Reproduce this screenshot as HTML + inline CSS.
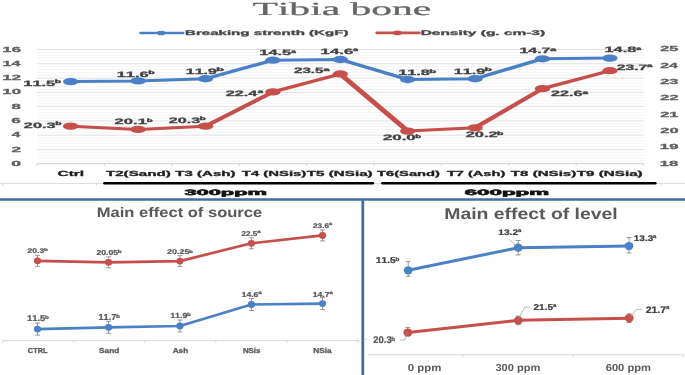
<!DOCTYPE html>
<html><head><meta charset="utf-8"><style>
html,body{margin:0;padding:0;background:#fff;}
body{width:685px;height:375px;overflow:hidden;}
svg{display:block;font-kerning:none;text-rendering:geometricPrecision;}
</style></head><body>
<svg width="685" height="375" viewBox="0 0 685 375" style="filter:blur(0.6px)">
<rect width="685" height="375" fill="#fff"/>
<line x1="37" y1="160.84" x2="643.6" y2="160.84" stroke="#f3f3f3" stroke-width="0.9" />
<line x1="37" y1="157.99" x2="643.6" y2="157.99" stroke="#f3f3f3" stroke-width="0.9" />
<line x1="37" y1="155.13" x2="643.6" y2="155.13" stroke="#f3f3f3" stroke-width="0.9" />
<line x1="37" y1="152.28" x2="643.6" y2="152.28" stroke="#f3f3f3" stroke-width="0.9" />
<line x1="37" y1="146.57" x2="643.6" y2="146.57" stroke="#f3f3f3" stroke-width="0.9" />
<line x1="37" y1="143.71" x2="643.6" y2="143.71" stroke="#f3f3f3" stroke-width="0.9" />
<line x1="37" y1="140.86" x2="643.6" y2="140.86" stroke="#f3f3f3" stroke-width="0.9" />
<line x1="37" y1="138" x2="643.6" y2="138" stroke="#f3f3f3" stroke-width="0.9" />
<line x1="37" y1="132.29" x2="643.6" y2="132.29" stroke="#f3f3f3" stroke-width="0.9" />
<line x1="37" y1="129.44" x2="643.6" y2="129.44" stroke="#f3f3f3" stroke-width="0.9" />
<line x1="37" y1="126.58" x2="643.6" y2="126.58" stroke="#f3f3f3" stroke-width="0.9" />
<line x1="37" y1="123.73" x2="643.6" y2="123.73" stroke="#f3f3f3" stroke-width="0.9" />
<line x1="37" y1="118.02" x2="643.6" y2="118.02" stroke="#f3f3f3" stroke-width="0.9" />
<line x1="37" y1="115.16" x2="643.6" y2="115.16" stroke="#f3f3f3" stroke-width="0.9" />
<line x1="37" y1="112.31" x2="643.6" y2="112.31" stroke="#f3f3f3" stroke-width="0.9" />
<line x1="37" y1="109.45" x2="643.6" y2="109.45" stroke="#f3f3f3" stroke-width="0.9" />
<line x1="37" y1="103.74" x2="643.6" y2="103.74" stroke="#f3f3f3" stroke-width="0.9" />
<line x1="37" y1="100.89" x2="643.6" y2="100.89" stroke="#f3f3f3" stroke-width="0.9" />
<line x1="37" y1="98.03" x2="643.6" y2="98.03" stroke="#f3f3f3" stroke-width="0.9" />
<line x1="37" y1="95.18" x2="643.6" y2="95.18" stroke="#f3f3f3" stroke-width="0.9" />
<line x1="37" y1="89.47" x2="643.6" y2="89.47" stroke="#f3f3f3" stroke-width="0.9" />
<line x1="37" y1="86.61" x2="643.6" y2="86.61" stroke="#f3f3f3" stroke-width="0.9" />
<line x1="37" y1="83.76" x2="643.6" y2="83.76" stroke="#f3f3f3" stroke-width="0.9" />
<line x1="37" y1="80.9" x2="643.6" y2="80.9" stroke="#f3f3f3" stroke-width="0.9" />
<line x1="37" y1="75.19" x2="643.6" y2="75.19" stroke="#f3f3f3" stroke-width="0.9" />
<line x1="37" y1="72.34" x2="643.6" y2="72.34" stroke="#f3f3f3" stroke-width="0.9" />
<line x1="37" y1="69.48" x2="643.6" y2="69.48" stroke="#f3f3f3" stroke-width="0.9" />
<line x1="37" y1="66.63" x2="643.6" y2="66.63" stroke="#f3f3f3" stroke-width="0.9" />
<line x1="37" y1="60.92" x2="643.6" y2="60.92" stroke="#f3f3f3" stroke-width="0.9" />
<line x1="37" y1="58.06" x2="643.6" y2="58.06" stroke="#f3f3f3" stroke-width="0.9" />
<line x1="37" y1="55.21" x2="643.6" y2="55.21" stroke="#f3f3f3" stroke-width="0.9" />
<line x1="37" y1="52.35" x2="643.6" y2="52.35" stroke="#f3f3f3" stroke-width="0.9" />
<line x1="37" y1="149.42" x2="643.6" y2="149.42" stroke="#e0e0e0" stroke-width="1" />
<line x1="37" y1="135.15" x2="643.6" y2="135.15" stroke="#e0e0e0" stroke-width="1" />
<line x1="37" y1="120.88" x2="643.6" y2="120.88" stroke="#e0e0e0" stroke-width="1" />
<line x1="37" y1="106.6" x2="643.6" y2="106.6" stroke="#e0e0e0" stroke-width="1" />
<line x1="37" y1="92.32" x2="643.6" y2="92.32" stroke="#e0e0e0" stroke-width="1" />
<line x1="37" y1="78.05" x2="643.6" y2="78.05" stroke="#e0e0e0" stroke-width="1" />
<line x1="37" y1="63.78" x2="643.6" y2="63.78" stroke="#e0e0e0" stroke-width="1" />
<line x1="37" y1="49.5" x2="643.6" y2="49.5" stroke="#e0e0e0" stroke-width="1" />
<line x1="37" y1="163.7" x2="643.6" y2="163.7" stroke="#d0d0d0" stroke-width="1" />
<line x1="37" y1="163.7" x2="37" y2="165.9" stroke="#c8c8c8" stroke-width="0.8" />
<line x1="104.4" y1="163.7" x2="104.4" y2="165.9" stroke="#c8c8c8" stroke-width="0.8" />
<line x1="171.8" y1="163.7" x2="171.8" y2="165.9" stroke="#c8c8c8" stroke-width="0.8" />
<line x1="239.2" y1="163.7" x2="239.2" y2="165.9" stroke="#c8c8c8" stroke-width="0.8" />
<line x1="306.6" y1="163.7" x2="306.6" y2="165.9" stroke="#c8c8c8" stroke-width="0.8" />
<line x1="374" y1="163.7" x2="374" y2="165.9" stroke="#c8c8c8" stroke-width="0.8" />
<line x1="441.4" y1="163.7" x2="441.4" y2="165.9" stroke="#c8c8c8" stroke-width="0.8" />
<line x1="508.8" y1="163.7" x2="508.8" y2="165.9" stroke="#c8c8c8" stroke-width="0.8" />
<line x1="576.2" y1="163.7" x2="576.2" y2="165.9" stroke="#c8c8c8" stroke-width="0.8" />
<line x1="643.6" y1="163.7" x2="643.6" y2="165.9" stroke="#c8c8c8" stroke-width="0.8" />
<text transform="matrix(0.23584,0,0,0.10000,11.31,165.8)" font-size="74" font-family='"Liberation Sans", sans-serif' font-weight="bold" fill="#606060"  stroke="#606060" stroke-width="3" stroke-linejoin="round">0</text>
<text transform="matrix(0.23297,0,0,0.10000,11.4,151.52)" font-size="74" font-family='"Liberation Sans", sans-serif' font-weight="bold" fill="#606060"  stroke="#606060" stroke-width="3" stroke-linejoin="round">2</text>
<text transform="matrix(0.20940,0,0,0.10000,11.77,137.25)" font-size="74" font-family='"Liberation Sans", sans-serif' font-weight="bold" fill="#606060"  stroke="#606060" stroke-width="3" stroke-linejoin="round">4</text>
<text transform="matrix(0.23203,0,0,0.10000,11.37,122.97)" font-size="74" font-family='"Liberation Sans", sans-serif' font-weight="bold" fill="#606060"  stroke="#606060" stroke-width="3" stroke-linejoin="round">6</text>
<text transform="matrix(0.22721,0,0,0.10000,11.47,108.7)" font-size="74" font-family='"Liberation Sans", sans-serif' font-weight="bold" fill="#606060"  stroke="#606060" stroke-width="3" stroke-linejoin="round">8</text>
<text transform="matrix(0.22650,0,0,0.10000,2.34,94.42)" font-size="74" font-family='"Liberation Sans", sans-serif' font-weight="bold" fill="#606060"  stroke="#606060" stroke-width="3" stroke-linejoin="round">10</text>
<text transform="matrix(0.22628,0,0,0.10000,2.35,80.15)" font-size="74" font-family='"Liberation Sans", sans-serif' font-weight="bold" fill="#606060"  stroke="#606060" stroke-width="3" stroke-linejoin="round">12</text>
<text transform="matrix(0.21876,0,0,0.10000,2.38,65.88)" font-size="74" font-family='"Liberation Sans", sans-serif' font-weight="bold" fill="#606060"  stroke="#606060" stroke-width="3" stroke-linejoin="round">14</text>
<text transform="matrix(0.22541,0,0,0.10000,2.35,51.6)" font-size="74" font-family='"Liberation Sans", sans-serif' font-weight="bold" fill="#606060"  stroke="#606060" stroke-width="3" stroke-linejoin="round">16</text>
<text transform="matrix(0.22422,0,0,0.10000,659.85,165.7)" font-size="74" font-family='"Liberation Sans", sans-serif' font-weight="bold" fill="#606060"  stroke="#606060" stroke-width="3" stroke-linejoin="round">18</text>
<text transform="matrix(0.22562,0,0,0.10000,659.85,149.34)" font-size="74" font-family='"Liberation Sans", sans-serif' font-weight="bold" fill="#606060"  stroke="#606060" stroke-width="3" stroke-linejoin="round">19</text>
<text transform="matrix(0.22031,0,0,0.10000,660.33,132.97)" font-size="74" font-family='"Liberation Sans", sans-serif' font-weight="bold" fill="#606060"  stroke="#606060" stroke-width="3" stroke-linejoin="round">20</text>
<text transform="matrix(0.21754,0,0,0.10000,660.34,116.61)" font-size="74" font-family='"Liberation Sans", sans-serif' font-weight="bold" fill="#606060"  stroke="#606060" stroke-width="3" stroke-linejoin="round">21</text>
<text transform="matrix(0.22010,0,0,0.10000,660.34,100.24)" font-size="74" font-family='"Liberation Sans", sans-serif' font-weight="bold" fill="#606060"  stroke="#606060" stroke-width="3" stroke-linejoin="round">22</text>
<text transform="matrix(0.21928,0,0,0.10000,660.34,83.88)" font-size="74" font-family='"Liberation Sans", sans-serif' font-weight="bold" fill="#606060"  stroke="#606060" stroke-width="3" stroke-linejoin="round">23</text>
<text transform="matrix(0.21299,0,0,0.10000,660.35,67.51)" font-size="74" font-family='"Liberation Sans", sans-serif' font-weight="bold" fill="#606060"  stroke="#606060" stroke-width="3" stroke-linejoin="round">24</text>
<text transform="matrix(0.21754,0,0,0.10000,660.34,51.15)" font-size="74" font-family='"Liberation Sans", sans-serif' font-weight="bold" fill="#606060"  stroke="#606060" stroke-width="3" stroke-linejoin="round">25</text>
<g transform="scale(2.15,1)">
<polyline points="32.88,81.62 64.23,80.91 95.58,78.76 126.93,60.21 158.28,59.49 189.63,79.48 220.98,78.76 252.33,58.78 283.67,58.06" fill="none" stroke="#4a80c6" stroke-width="3" stroke-linejoin="round" />
</g>
<g transform="scale(2.15,1)">
<polyline points="32.88,126.18 64.23,129.44 95.58,126.18 126.93,91.92 158.28,73.97 189.63,131.07 220.98,127.81 252.33,88.65 283.67,70.71" fill="none" stroke="#c64f4c" stroke-width="3" stroke-linejoin="round" />
</g>
<ellipse cx="70.7" cy="81.62" rx="7.7" ry="3.65" fill="#4a80c6"/>
<ellipse cx="138.1" cy="80.91" rx="7.7" ry="3.65" fill="#4a80c6"/>
<ellipse cx="205.5" cy="78.76" rx="7.7" ry="3.65" fill="#4a80c6"/>
<ellipse cx="272.9" cy="60.21" rx="7.7" ry="3.65" fill="#4a80c6"/>
<ellipse cx="340.3" cy="59.49" rx="7.7" ry="3.65" fill="#4a80c6"/>
<ellipse cx="407.7" cy="79.48" rx="7.7" ry="3.65" fill="#4a80c6"/>
<ellipse cx="475.1" cy="78.76" rx="7.7" ry="3.65" fill="#4a80c6"/>
<ellipse cx="542.5" cy="58.78" rx="7.7" ry="3.65" fill="#4a80c6"/>
<ellipse cx="609.9" cy="58.06" rx="7.7" ry="3.65" fill="#4a80c6"/>
<ellipse cx="70.7" cy="126.18" rx="7.7" ry="3.65" fill="#c64f4c"/>
<ellipse cx="138.1" cy="129.44" rx="7.7" ry="3.65" fill="#c64f4c"/>
<ellipse cx="205.5" cy="126.18" rx="7.7" ry="3.65" fill="#c64f4c"/>
<ellipse cx="272.9" cy="91.92" rx="7.7" ry="3.65" fill="#c64f4c"/>
<ellipse cx="340.3" cy="73.97" rx="7.7" ry="3.65" fill="#c64f4c"/>
<ellipse cx="407.7" cy="131.07" rx="7.7" ry="3.65" fill="#c64f4c"/>
<ellipse cx="475.1" cy="127.81" rx="7.7" ry="3.65" fill="#c64f4c"/>
<ellipse cx="542.5" cy="88.65" rx="7.7" ry="3.65" fill="#c64f4c"/>
<ellipse cx="609.9" cy="70.71" rx="7.7" ry="3.65" fill="#c64f4c"/>
<text transform="matrix(0.20867,0,0,0.10000,23.37,85.8)" font-size="78" font-family='"Liberation Sans", sans-serif' font-weight="bold" fill="#424242"  stroke="#424242" stroke-width="3" stroke-linejoin="round">11.5</text>
<text transform="matrix(0.21912,0,0,0.10000,54.71,83.4)" font-size="48" font-family='"Liberation Sans", sans-serif' font-weight="bold" fill="#424242"  stroke="#424242" stroke-width="4" stroke-linejoin="round">b</text>
<text transform="matrix(0.21100,0,0,0.10000,116.66,76.8)" font-size="78" font-family='"Liberation Sans", sans-serif' font-weight="bold" fill="#424242"  stroke="#424242" stroke-width="3" stroke-linejoin="round">11.6</text>
<text transform="matrix(0.21912,0,0,0.10000,148.21,74.4)" font-size="48" font-family='"Liberation Sans", sans-serif' font-weight="bold" fill="#424242"  stroke="#424242" stroke-width="4" stroke-linejoin="round">b</text>
<text transform="matrix(0.20416,0,0,0.10000,185.8,73.8)" font-size="78" font-family='"Liberation Sans", sans-serif' font-weight="bold" fill="#424242"  stroke="#424242" stroke-width="3" stroke-linejoin="round">11.9</text>
<text transform="matrix(0.26047,0,0,0.10000,216.18,71.4)" font-size="48" font-family='"Liberation Sans", sans-serif' font-weight="bold" fill="#424242"  stroke="#424242" stroke-width="4" stroke-linejoin="round">b</text>
<text transform="matrix(0.21074,0,0,0.10000,259.26,55.1)" font-size="78" font-family='"Liberation Sans", sans-serif' font-weight="bold" fill="#424242"  stroke="#424242" stroke-width="3" stroke-linejoin="round">14.5</text>
<text transform="matrix(0.17192,0,0,0.10000,291.36,52.7)" font-size="48" font-family='"Liberation Sans", sans-serif' font-weight="bold" fill="#424242"  stroke="#424242" stroke-width="4" stroke-linejoin="round">a</text>
<text transform="matrix(0.21585,0,0,0.10000,320.54,53.8)" font-size="78" font-family='"Liberation Sans", sans-serif' font-weight="bold" fill="#424242"  stroke="#424242" stroke-width="3" stroke-linejoin="round">14.6</text>
<text transform="matrix(0.17582,0,0,0.10000,353.25,51.4)" font-size="48" font-family='"Liberation Sans", sans-serif' font-weight="bold" fill="#424242"  stroke="#424242" stroke-width="4" stroke-linejoin="round">a</text>
<text transform="matrix(0.20762,0,0,0.10000,398.28,75.1)" font-size="78" font-family='"Liberation Sans", sans-serif' font-weight="bold" fill="#424242"  stroke="#424242" stroke-width="3" stroke-linejoin="round">11.8</text>
<text transform="matrix(0.23566,0,0,0.10000,429.35,72.7)" font-size="48" font-family='"Liberation Sans", sans-serif' font-weight="bold" fill="#424242"  stroke="#424242" stroke-width="4" stroke-linejoin="round">b</text>
<text transform="matrix(0.20625,0,0,0.10000,453.79,73.7)" font-size="78" font-family='"Liberation Sans", sans-serif' font-weight="bold" fill="#424242"  stroke="#424242" stroke-width="3" stroke-linejoin="round">11.9</text>
<text transform="matrix(0.24806,0,0,0.10000,484.52,71.3)" font-size="48" font-family='"Liberation Sans", sans-serif' font-weight="bold" fill="#424242"  stroke="#424242" stroke-width="4" stroke-linejoin="round">b</text>
<text transform="matrix(0.20353,0,0,0.10000,519.5,53.1)" font-size="78" font-family='"Liberation Sans", sans-serif' font-weight="bold" fill="#424242"  stroke="#424242" stroke-width="3" stroke-linejoin="round">14.7</text>
<text transform="matrix(0.21880,0,0,0.10000,550.19,50.7)" font-size="48" font-family='"Liberation Sans", sans-serif' font-weight="bold" fill="#424242"  stroke="#424242" stroke-width="4" stroke-linejoin="round">a</text>
<text transform="matrix(0.20969,0,0,0.10000,604.47,52)" font-size="78" font-family='"Liberation Sans", sans-serif' font-weight="bold" fill="#424242"  stroke="#424242" stroke-width="3" stroke-linejoin="round">14.8</text>
<text transform="matrix(0.17973,0,0,0.10000,636.35,49.6)" font-size="48" font-family='"Liberation Sans", sans-serif' font-weight="bold" fill="#424242"  stroke="#424242" stroke-width="4" stroke-linejoin="round">a</text>
<text transform="matrix(0.20918,0,0,0.10000,23.83,127.8)" font-size="78" font-family='"Liberation Sans", sans-serif' font-weight="bold" fill="#424242"  stroke="#424242" stroke-width="3" stroke-linejoin="round">20.3</text>
<text transform="matrix(0.21085,0,0,0.10000,55.13,125.4)" font-size="48" font-family='"Liberation Sans", sans-serif' font-weight="bold" fill="#424242"  stroke="#424242" stroke-width="4" stroke-linejoin="round">b</text>
<text transform="matrix(0.21302,0,0,0.10000,114.62,124)" font-size="78" font-family='"Liberation Sans", sans-serif' font-weight="bold" fill="#424242"  stroke="#424242" stroke-width="3" stroke-linejoin="round">20.1</text>
<text transform="matrix(0.20258,0,0,0.10000,146.66,121.6)" font-size="48" font-family='"Liberation Sans", sans-serif' font-weight="bold" fill="#424242"  stroke="#424242" stroke-width="4" stroke-linejoin="round">b</text>
<text transform="matrix(0.20713,0,0,0.10000,168.74,122.6)" font-size="78" font-family='"Liberation Sans", sans-serif' font-weight="bold" fill="#424242"  stroke="#424242" stroke-width="3" stroke-linejoin="round">20.3</text>
<text transform="matrix(0.20258,0,0,0.10000,199.76,120.2)" font-size="48" font-family='"Liberation Sans", sans-serif' font-weight="bold" fill="#424242"  stroke="#424242" stroke-width="4" stroke-linejoin="round">b</text>
<text transform="matrix(0.20782,0,0,0.10000,225.74,95.8)" font-size="78" font-family='"Liberation Sans", sans-serif' font-weight="bold" fill="#424242"  stroke="#424242" stroke-width="3" stroke-linejoin="round">22.4</text>
<text transform="matrix(0.19536,0,0,0.10000,257.73,93.4)" font-size="48" font-family='"Liberation Sans", sans-serif' font-weight="bold" fill="#424242"  stroke="#424242" stroke-width="4" stroke-linejoin="round">a</text>
<text transform="matrix(0.19396,0,0,0.10000,293.98,73.3)" font-size="78" font-family='"Liberation Sans", sans-serif' font-weight="bold" fill="#424242"  stroke="#424242" stroke-width="3" stroke-linejoin="round">23.5</text>
<text transform="matrix(0.22662,0,0,0.10000,323.48,70.9)" font-size="48" font-family='"Liberation Sans", sans-serif' font-weight="bold" fill="#424242"  stroke="#424242" stroke-width="4" stroke-linejoin="round">a</text>
<text transform="matrix(0.21589,0,0,0.10000,382.92,140.4)" font-size="78" font-family='"Liberation Sans", sans-serif' font-weight="bold" fill="#424242"  stroke="#424242" stroke-width="3" stroke-linejoin="round">20.0</text>
<text transform="matrix(0.19845,0,0,0.10000,415.17,138)" font-size="48" font-family='"Liberation Sans", sans-serif' font-weight="bold" fill="#424242"  stroke="#424242" stroke-width="4" stroke-linejoin="round">b</text>
<text transform="matrix(0.21030,0,0,0.10000,465.63,137.1)" font-size="78" font-family='"Liberation Sans", sans-serif' font-weight="bold" fill="#424242"  stroke="#424242" stroke-width="3" stroke-linejoin="round">20.2</text>
<text transform="matrix(0.21912,0,0,0.10000,497.01,134.7)" font-size="48" font-family='"Liberation Sans", sans-serif' font-weight="bold" fill="#424242"  stroke="#424242" stroke-width="4" stroke-linejoin="round">b</text>
<text transform="matrix(0.20781,0,0,0.10000,550.94,96.3)" font-size="78" font-family='"Liberation Sans", sans-serif' font-weight="bold" fill="#424242"  stroke="#424242" stroke-width="3" stroke-linejoin="round">22.6</text>
<text transform="matrix(0.20708,0,0,0.10000,582.41,93.9)" font-size="48" font-family='"Liberation Sans", sans-serif' font-weight="bold" fill="#424242"  stroke="#424242" stroke-width="4" stroke-linejoin="round">a</text>
<text transform="matrix(0.20113,0,0,0.10000,616.66,69.5)" font-size="78" font-family='"Liberation Sans", sans-serif' font-weight="bold" fill="#424242"  stroke="#424242" stroke-width="3" stroke-linejoin="round">23.7</text>
<text transform="matrix(0.20317,0,0,0.10000,647.01,67.1)" font-size="48" font-family='"Liberation Sans", sans-serif' font-weight="bold" fill="#424242"  stroke="#424242" stroke-width="4" stroke-linejoin="round">a</text>
<text transform="matrix(0.20811,0,0,0.10000,57.57,175.6)" font-size="74" font-family='"Liberation Sans", sans-serif' font-weight="bold" fill="#1e1e1e"  stroke="#1e1e1e" stroke-width="3" stroke-linejoin="round">Ctrl</text>
<text transform="matrix(0.20478,0,0,0.10000,105.93,175.6)" font-size="74" font-family='"Liberation Sans", sans-serif' font-weight="bold" fill="#1e1e1e"  stroke="#1e1e1e" stroke-width="3" stroke-linejoin="round">T2(Sand)</text>
<text transform="matrix(0.20310,0,0,0.10000,175.33,175.6)" font-size="74" font-family='"Liberation Sans", sans-serif' font-weight="bold" fill="#1e1e1e"  stroke="#1e1e1e" stroke-width="3" stroke-linejoin="round">T3 (Ash)</text>
<text transform="matrix(0.20082,0,0,0.10000,241.83,175.6)" font-size="74" font-family='"Liberation Sans", sans-serif' font-weight="bold" fill="#1e1e1e"  stroke="#1e1e1e" stroke-width="3" stroke-linejoin="round">T4 (NSis)</text>
<text transform="matrix(0.20525,0,0,0.10000,306.83,175.6)" font-size="74" font-family='"Liberation Sans", sans-serif' font-weight="bold" fill="#1e1e1e"  stroke="#1e1e1e" stroke-width="3" stroke-linejoin="round">T5 (NSia)</text>
<text transform="matrix(0.19933,0,0,0.10000,376.93,175.6)" font-size="74" font-family='"Liberation Sans", sans-serif' font-weight="bold" fill="#1e1e1e"  stroke="#1e1e1e" stroke-width="3" stroke-linejoin="round">T6(Sand)</text>
<text transform="matrix(0.19692,0,0,0.10000,446.94,175.6)" font-size="74" font-family='"Liberation Sans", sans-serif' font-weight="bold" fill="#1e1e1e"  stroke="#1e1e1e" stroke-width="3" stroke-linejoin="round">T7 (Ash)</text>
<text transform="matrix(0.20399,0,0,0.10000,510.83,175.6)" font-size="74" font-family='"Liberation Sans", sans-serif' font-weight="bold" fill="#1e1e1e"  stroke="#1e1e1e" stroke-width="3" stroke-linejoin="round">T8 (NSis)</text>
<text transform="matrix(0.20525,0,0,0.10000,576.83,175.6)" font-size="74" font-family='"Liberation Sans", sans-serif' font-weight="bold" fill="#1e1e1e"  stroke="#1e1e1e" stroke-width="3" stroke-linejoin="round">T9 (NSia)</text>
<line x1="0" y1="183.5" x2="685" y2="183.5" stroke="#dedede" stroke-width="1" />
<line x1="2.7" y1="183.5" x2="2.7" y2="185.6" stroke="#c8c8c8" stroke-width="0.8" />
<line x1="96.7" y1="183.5" x2="96.7" y2="185.6" stroke="#c8c8c8" stroke-width="0.8" />
<line x1="378.6" y1="183.5" x2="378.6" y2="185.6" stroke="#c8c8c8" stroke-width="0.8" />
<line x1="661.7" y1="183.5" x2="661.7" y2="185.6" stroke="#c8c8c8" stroke-width="0.8" />
<line x1="104.5" y1="183.3" x2="372.8" y2="183.3" stroke="#000" stroke-width="2.6" stroke-linecap="round"/>
<line x1="382.4" y1="183.3" x2="655.3" y2="183.3" stroke="#000" stroke-width="2.6" stroke-linecap="round"/>
<text transform="matrix(0.27971,0,0,0.10000,184.4,194.8)" font-size="78" font-family='"Liberation Sans", sans-serif' font-weight="bold" fill="#151515"  stroke="#151515" stroke-width="6" stroke-linejoin="round">300ppm</text>
<text transform="matrix(0.28632,0,0,0.10000,464.68,194.8)" font-size="78" font-family='"Liberation Sans", sans-serif' font-weight="bold" fill="#151515"  stroke="#151515" stroke-width="6" stroke-linejoin="round">600ppm</text>
<text transform="matrix(0.22453,0,0,0.10000,252.45,15)" font-size="185" font-family='"Liberation Serif", serif' font-weight="normal" fill="#666"  stroke="#666" stroke-width="2.5" stroke-linejoin="round">Tibia bone</text>
<line x1="140.5" y1="33" x2="183.2" y2="33" stroke="#4a80c6" stroke-width="2.6" stroke-linecap="round"/>
<ellipse cx="161.2" cy="33" rx="4.2" ry="2.3" fill="#4a80c6"/>
<text transform="matrix(0.22188,0,0,0.10000,184.99,34.6)" font-size="68" font-family='"Liberation Sans", sans-serif' font-weight="bold" fill="#484848"  stroke="#484848" stroke-width="3" stroke-linejoin="round">Breaking strenth (KgF)</text>
<line x1="376.6" y1="32.9" x2="419.5" y2="32.9" stroke="#c64f4c" stroke-width="2.6" stroke-linecap="round"/>
<ellipse cx="397.4" cy="32.9" rx="4.2" ry="2.3" fill="#c64f4c"/>
<text transform="matrix(0.22706,0,0,0.10000,420.67,34.6)" font-size="68" font-family='"Liberation Sans", sans-serif' font-weight="bold" fill="#484848"  stroke="#484848" stroke-width="3" stroke-linejoin="round">Density (g. cm-3)</text>
<line x1="0" y1="199.5" x2="685" y2="199.5" stroke="#41709f" stroke-width="2.4" />
<line x1="362.8" y1="199.5" x2="362.8" y2="375" stroke="#41709f" stroke-width="2.8" />
<text transform="matrix(0.11981,0,0,0.10000,96.79,217.3)" font-size="138" font-family='"Liberation Sans", sans-serif' font-weight="bold" fill="#595959" >Main effect of source</text>
<line x1="2.6" y1="340.7" x2="358.6" y2="340.7" stroke="#d9d9d9" stroke-width="1" />
<line x1="2.6" y1="340.7" x2="2.6" y2="343" stroke="#d0d0d0" stroke-width="0.8" />
<line x1="73.6" y1="340.7" x2="73.6" y2="343" stroke="#d0d0d0" stroke-width="0.8" />
<line x1="144.6" y1="340.7" x2="144.6" y2="343" stroke="#d0d0d0" stroke-width="0.8" />
<line x1="215.8" y1="340.7" x2="215.8" y2="343" stroke="#d0d0d0" stroke-width="0.8" />
<line x1="287.2" y1="340.7" x2="287.2" y2="343" stroke="#d0d0d0" stroke-width="0.8" />
<line x1="358.6" y1="340.7" x2="358.6" y2="343" stroke="#d0d0d0" stroke-width="0.8" />
<polyline points="37.5,260.8 108.6,262.3 179.9,261.1 251.4,243.3 322.5,235.4" fill="none" stroke="#c64f4c" stroke-width="2.7" stroke-linejoin="round" />
<polyline points="37.5,329.1 108.6,327.3 179.9,326 251.4,304.5 322.5,303.6" fill="none" stroke="#4a80c6" stroke-width="2.7" stroke-linejoin="round" />
<line x1="37.5" y1="255.3" x2="37.5" y2="266.3" stroke="#707070" stroke-width="0.7" />
<line x1="35" y1="255.3" x2="40" y2="255.3" stroke="#707070" stroke-width="0.7" />
<line x1="35" y1="266.3" x2="40" y2="266.3" stroke="#707070" stroke-width="0.7" />
<line x1="108.6" y1="256.8" x2="108.6" y2="267.8" stroke="#707070" stroke-width="0.7" />
<line x1="106.1" y1="256.8" x2="111.1" y2="256.8" stroke="#707070" stroke-width="0.7" />
<line x1="106.1" y1="267.8" x2="111.1" y2="267.8" stroke="#707070" stroke-width="0.7" />
<line x1="179.9" y1="255.6" x2="179.9" y2="266.6" stroke="#707070" stroke-width="0.7" />
<line x1="177.4" y1="255.6" x2="182.4" y2="255.6" stroke="#707070" stroke-width="0.7" />
<line x1="177.4" y1="266.6" x2="182.4" y2="266.6" stroke="#707070" stroke-width="0.7" />
<line x1="251.4" y1="237.8" x2="251.4" y2="248.8" stroke="#707070" stroke-width="0.7" />
<line x1="248.9" y1="237.8" x2="253.9" y2="237.8" stroke="#707070" stroke-width="0.7" />
<line x1="248.9" y1="248.8" x2="253.9" y2="248.8" stroke="#707070" stroke-width="0.7" />
<line x1="322.5" y1="229.9" x2="322.5" y2="240.9" stroke="#707070" stroke-width="0.7" />
<line x1="320" y1="229.9" x2="325" y2="229.9" stroke="#707070" stroke-width="0.7" />
<line x1="320" y1="240.9" x2="325" y2="240.9" stroke="#707070" stroke-width="0.7" />
<line x1="37.5" y1="323.1" x2="37.5" y2="335.1" stroke="#707070" stroke-width="0.7" />
<line x1="35" y1="323.1" x2="40" y2="323.1" stroke="#707070" stroke-width="0.7" />
<line x1="35" y1="335.1" x2="40" y2="335.1" stroke="#707070" stroke-width="0.7" />
<line x1="108.6" y1="321.3" x2="108.6" y2="333.3" stroke="#707070" stroke-width="0.7" />
<line x1="106.1" y1="321.3" x2="111.1" y2="321.3" stroke="#707070" stroke-width="0.7" />
<line x1="106.1" y1="333.3" x2="111.1" y2="333.3" stroke="#707070" stroke-width="0.7" />
<line x1="179.9" y1="320" x2="179.9" y2="332" stroke="#707070" stroke-width="0.7" />
<line x1="177.4" y1="320" x2="182.4" y2="320" stroke="#707070" stroke-width="0.7" />
<line x1="177.4" y1="332" x2="182.4" y2="332" stroke="#707070" stroke-width="0.7" />
<line x1="251.4" y1="298.5" x2="251.4" y2="310.5" stroke="#707070" stroke-width="0.7" />
<line x1="248.9" y1="298.5" x2="253.9" y2="298.5" stroke="#707070" stroke-width="0.7" />
<line x1="248.9" y1="310.5" x2="253.9" y2="310.5" stroke="#707070" stroke-width="0.7" />
<line x1="322.5" y1="297.6" x2="322.5" y2="309.6" stroke="#707070" stroke-width="0.7" />
<line x1="320" y1="297.6" x2="325" y2="297.6" stroke="#707070" stroke-width="0.7" />
<line x1="320" y1="309.6" x2="325" y2="309.6" stroke="#707070" stroke-width="0.7" />
<ellipse cx="37.5" cy="260.8" rx="3.6" ry="3.4" fill="#c64f4c"/>
<ellipse cx="108.6" cy="262.3" rx="3.6" ry="3.4" fill="#c64f4c"/>
<ellipse cx="179.9" cy="261.1" rx="3.6" ry="3.4" fill="#c64f4c"/>
<ellipse cx="251.4" cy="243.3" rx="3.6" ry="3.4" fill="#c64f4c"/>
<ellipse cx="322.5" cy="235.4" rx="3.6" ry="3.4" fill="#c64f4c"/>
<ellipse cx="37.5" cy="329.1" rx="3.6" ry="3.4" fill="#4a80c6"/>
<ellipse cx="108.6" cy="327.3" rx="3.6" ry="3.4" fill="#4a80c6"/>
<ellipse cx="179.9" cy="326" rx="3.6" ry="3.4" fill="#4a80c6"/>
<ellipse cx="251.4" cy="304.5" rx="3.6" ry="3.4" fill="#4a80c6"/>
<ellipse cx="322.5" cy="303.6" rx="3.6" ry="3.4" fill="#4a80c6"/>
<text transform="matrix(0.12674,0,0,0.10000,27.6,253.1)" font-size="67.31" font-family='"Liberation Sans", sans-serif' font-weight="bold" fill="#595959"  stroke="#595959" stroke-width="2.5" stroke-linejoin="round">20.3</text>
<text transform="matrix(0.15354,0,0,0.10000,43.88,251.4)" font-size="41.36" font-family='"Liberation Sans", sans-serif' font-weight="bold" fill="#595959"  stroke="#595959" stroke-width="2.5" stroke-linejoin="round">b</text>
<text transform="matrix(0.12076,0,0,0.10000,96.4,255)" font-size="71.61" font-family='"Liberation Sans", sans-serif' font-weight="bold" fill="#595959"  stroke="#595959" stroke-width="2.5" stroke-linejoin="round">20.05</text>
<text transform="matrix(0.14433,0,0,0.10000,117.78,253.19)" font-size="44" font-family='"Liberation Sans", sans-serif' font-weight="bold" fill="#595959"  stroke="#595959" stroke-width="2.5" stroke-linejoin="round">b</text>
<text transform="matrix(0.12732,0,0,0.10000,166.99,254.4)" font-size="70.18" font-family='"Liberation Sans", sans-serif' font-weight="bold" fill="#595959"  stroke="#595959" stroke-width="2.5" stroke-linejoin="round">20.25</text>
<text transform="matrix(0.14727,0,0,0.10000,189.08,252.62)" font-size="43.12" font-family='"Liberation Sans", sans-serif' font-weight="bold" fill="#595959"  stroke="#595959" stroke-width="2.5" stroke-linejoin="round">b</text>
<text transform="matrix(0.11342,0,0,0.10000,241.52,236)" font-size="71.61" font-family='"Liberation Sans", sans-serif' font-weight="bold" fill="#595959"  stroke="#595959" stroke-width="2.5" stroke-linejoin="round">22.5</text>
<text transform="matrix(0.13640,0,0,0.10000,257.32,233.37)" font-size="44" font-family='"Liberation Sans", sans-serif' font-weight="bold" fill="#595959"  stroke="#595959" stroke-width="2.5" stroke-linejoin="round">a</text>
<text transform="matrix(0.12199,0,0,0.10000,313.02,227.6)" font-size="67.31" font-family='"Liberation Sans", sans-serif' font-weight="bold" fill="#595959"  stroke="#595959" stroke-width="2.5" stroke-linejoin="round">23.6</text>
<text transform="matrix(0.14510,0,0,0.10000,328.92,225.13)" font-size="41.36" font-family='"Liberation Sans", sans-serif' font-weight="bold" fill="#595959"  stroke="#595959" stroke-width="2.5" stroke-linejoin="round">a</text>
<text transform="matrix(0.11319,0,0,0.10000,27.01,321.2)" font-size="82.85" font-family='"Liberation Sans", sans-serif' font-weight="bold" fill="#595959"  stroke="#595959" stroke-width="2.5" stroke-linejoin="round">11.5</text>
<text transform="matrix(0.12660,0,0,0.10000,44.98,319.13)" font-size="50.16" font-family='"Liberation Sans", sans-serif' font-weight="bold" fill="#595959"  stroke="#595959" stroke-width="2.5" stroke-linejoin="round">b</text>
<text transform="matrix(0.10535,0,0,0.10000,98.42,320.2)" font-size="87.21" font-family='"Liberation Sans", sans-serif' font-weight="bold" fill="#595959"  stroke="#595959" stroke-width="2.5" stroke-linejoin="round">11.7</text>
<text transform="matrix(0.12027,0,0,0.10000,115.88,318.03)" font-size="52.8" font-family='"Liberation Sans", sans-serif' font-weight="bold" fill="#595959"  stroke="#595959" stroke-width="2.5" stroke-linejoin="round">b</text>
<text transform="matrix(0.11928,0,0,0.10000,170.14,318.3)" font-size="74.47" font-family='"Liberation Sans", sans-serif' font-weight="bold" fill="#595959"  stroke="#595959" stroke-width="2.5" stroke-linejoin="round">11.9</text>
<text transform="matrix(0.13878,0,0,0.10000,187.08,316.42)" font-size="45.76" font-family='"Liberation Sans", sans-serif' font-weight="bold" fill="#595959"  stroke="#595959" stroke-width="2.5" stroke-linejoin="round">b</text>
<text transform="matrix(0.11869,0,0,0.10000,241.76,296.8)" font-size="71.61" font-family='"Liberation Sans", sans-serif' font-weight="bold" fill="#595959"  stroke="#595959" stroke-width="2.5" stroke-linejoin="round">14.6</text>
<text transform="matrix(0.13640,0,0,0.10000,258.22,294.17)" font-size="44" font-family='"Liberation Sans", sans-serif' font-weight="bold" fill="#595959"  stroke="#595959" stroke-width="2.5" stroke-linejoin="round">a</text>
<text transform="matrix(0.11894,0,0,0.10000,312.76,296.8)" font-size="72.68" font-family='"Liberation Sans", sans-serif' font-weight="bold" fill="#595959"  stroke="#595959" stroke-width="2.5" stroke-linejoin="round">14.7</text>
<text transform="matrix(0.13640,0,0,0.10000,329.42,294.17)" font-size="44" font-family='"Liberation Sans", sans-serif' font-weight="bold" fill="#595959"  stroke="#595959" stroke-width="2.5" stroke-linejoin="round">a</text>
<text transform="matrix(0.10279,0,0,0.10000,27.8,353)" font-size="72" font-family='"Liberation Sans", sans-serif' font-weight="bold" fill="#595959"  stroke="#595959" stroke-width="3" stroke-linejoin="round">CTRL</text>
<text transform="matrix(0.11524,0,0,0.10000,99.06,353)" font-size="72" font-family='"Liberation Sans", sans-serif' font-weight="bold" fill="#595959"  stroke="#595959" stroke-width="3" stroke-linejoin="round">Sand</text>
<text transform="matrix(0.11328,0,0,0.10000,172.7,353)" font-size="72" font-family='"Liberation Sans", sans-serif' font-weight="bold" fill="#595959"  stroke="#595959" stroke-width="3" stroke-linejoin="round">Ash</text>
<text transform="matrix(0.10900,0,0,0.10000,242.88,353)" font-size="72" font-family='"Liberation Sans", sans-serif' font-weight="bold" fill="#595959"  stroke="#595959" stroke-width="3" stroke-linejoin="round">NSis</text>
<text transform="matrix(0.11432,0,0,0.10000,313.35,353)" font-size="72" font-family='"Liberation Sans", sans-serif' font-weight="bold" fill="#595959"  stroke="#595959" stroke-width="3" stroke-linejoin="round">NSia</text>
<text transform="matrix(0.12264,0,0,0.10000,444.3,219.4)" font-size="158" font-family='"Liberation Sans", sans-serif' font-weight="bold" fill="#595959" >Main effect of level</text>
<line x1="367.5" y1="354.7" x2="683.6" y2="354.7" stroke="#d9d9d9" stroke-width="1" />
<line x1="462.8" y1="354.7" x2="462.8" y2="357.3" stroke="#d0d0d0" stroke-width="0.8" />
<line x1="573.1" y1="354.7" x2="573.1" y2="357.3" stroke="#d0d0d0" stroke-width="0.8" />
<line x1="683.3" y1="354.7" x2="683.3" y2="357.3" stroke="#d0d0d0" stroke-width="0.8" />
<polyline points="408.2,270.3 518.2,247.7 629,246.1" fill="none" stroke="#4a80c6" stroke-width="3" stroke-linejoin="round" />
<polyline points="408.2,332.5 518.2,320.3 629,318.2" fill="none" stroke="#c64f4c" stroke-width="3" stroke-linejoin="round" />
<line x1="408.2" y1="261.7" x2="408.2" y2="276.3" stroke="#707070" stroke-width="0.7" />
<line x1="405.7" y1="261.7" x2="410.7" y2="261.7" stroke="#707070" stroke-width="0.7" />
<line x1="405.7" y1="276.3" x2="410.7" y2="276.3" stroke="#707070" stroke-width="0.7" />
<line x1="518.2" y1="240.5" x2="518.2" y2="254.9" stroke="#707070" stroke-width="0.7" />
<line x1="515.7" y1="240.5" x2="520.7" y2="240.5" stroke="#707070" stroke-width="0.7" />
<line x1="515.7" y1="254.9" x2="520.7" y2="254.9" stroke="#707070" stroke-width="0.7" />
<line x1="629" y1="237.5" x2="629" y2="253" stroke="#707070" stroke-width="0.7" />
<line x1="626.5" y1="237.5" x2="631.5" y2="237.5" stroke="#707070" stroke-width="0.7" />
<line x1="626.5" y1="253" x2="631.5" y2="253" stroke="#707070" stroke-width="0.7" />
<line x1="407.8" y1="327.4" x2="407.8" y2="336" stroke="#707070" stroke-width="0.7" />
<line x1="405.3" y1="327.4" x2="410.3" y2="327.4" stroke="#707070" stroke-width="0.7" />
<line x1="405.3" y1="336" x2="410.3" y2="336" stroke="#707070" stroke-width="0.7" />
<line x1="518.2" y1="316" x2="518.2" y2="324.7" stroke="#707070" stroke-width="0.7" />
<line x1="515.7" y1="316" x2="520.7" y2="316" stroke="#707070" stroke-width="0.7" />
<line x1="515.7" y1="324.7" x2="520.7" y2="324.7" stroke="#707070" stroke-width="0.7" />
<line x1="629.2" y1="313.8" x2="629.2" y2="322.5" stroke="#707070" stroke-width="0.7" />
<line x1="626.7" y1="313.8" x2="631.7" y2="313.8" stroke="#707070" stroke-width="0.7" />
<line x1="626.7" y1="322.5" x2="631.7" y2="322.5" stroke="#707070" stroke-width="0.7" />
<ellipse cx="408.2" cy="270.3" rx="4.4" ry="4.1" fill="#4a80c6"/>
<ellipse cx="518.2" cy="247.7" rx="4.4" ry="4.1" fill="#4a80c6"/>
<ellipse cx="629" cy="246.1" rx="4.4" ry="4.1" fill="#4a80c6"/>
<ellipse cx="407.8" cy="332.5" rx="4.4" ry="4.1" fill="#c64f4c"/>
<ellipse cx="518.3" cy="320.3" rx="4.4" ry="4.1" fill="#c64f4c"/>
<ellipse cx="629.2" cy="318.2" rx="4.4" ry="4.1" fill="#c64f4c"/>
<text transform="matrix(0.11878,0,0,0.10000,375.86,263)" font-size="85.76" font-family='"Liberation Sans", sans-serif' font-weight="bold" fill="#404040"  stroke="#404040" stroke-width="2.5" stroke-linejoin="round">11.5</text>
<text transform="matrix(0.12231,0,0,0.10000,395.38,260.86)" font-size="51.92" font-family='"Liberation Sans", sans-serif' font-weight="bold" fill="#404040"  stroke="#404040" stroke-width="2.5" stroke-linejoin="round">b</text>
<text transform="matrix(0.12717,0,0,0.10000,498.26,234.6)" font-size="80.2" font-family='"Liberation Sans", sans-serif' font-weight="bold" fill="#404040"  stroke="#404040" stroke-width="2.5" stroke-linejoin="round">13.2</text>
<text transform="matrix(0.12178,0,0,0.10000,517.92,231.65)" font-size="49.28" font-family='"Liberation Sans", sans-serif' font-weight="bold" fill="#404040"  stroke="#404040" stroke-width="2.5" stroke-linejoin="round">a</text>
<text transform="matrix(0.12057,0,0,0.10000,633.77,240.7)" font-size="83.07" font-family='"Liberation Sans", sans-serif' font-weight="bold" fill="#404040"  stroke="#404040" stroke-width="2.5" stroke-linejoin="round">13.3</text>
<text transform="matrix(0.11758,0,0,0.10000,653.12,237.65)" font-size="51.04" font-family='"Liberation Sans", sans-serif' font-weight="bold" fill="#404040"  stroke="#404040" stroke-width="2.5" stroke-linejoin="round">a</text>
<text transform="matrix(0.09691,0,0,0.10000,373.27,343.2)" font-size="97.39" font-family='"Liberation Sans", sans-serif' font-weight="bold" fill="#595959"  stroke="#595959" stroke-width="2.5" stroke-linejoin="round">20.3</text>
<text transform="matrix(0.10612,0,0,0.10000,391.28,340.74)" font-size="59.84" font-family='"Liberation Sans", sans-serif' font-weight="bold" fill="#595959"  stroke="#595959" stroke-width="2.5" stroke-linejoin="round">b</text>
<text transform="matrix(0.11738,0,0,0.10000,533.45,309.9)" font-size="85.93" font-family='"Liberation Sans", sans-serif' font-weight="bold" fill="#404040"  stroke="#404040" stroke-width="2.5" stroke-linejoin="round">21.5</text>
<text transform="matrix(0.11366,0,0,0.10000,553.02,306.74)" font-size="52.8" font-family='"Liberation Sans", sans-serif' font-weight="bold" fill="#404040"  stroke="#404040" stroke-width="2.5" stroke-linejoin="round">a</text>
<text transform="matrix(0.11159,0,0,0.10000,645.63,312.8)" font-size="94.52" font-family='"Liberation Sans", sans-serif' font-weight="bold" fill="#404040"  stroke="#404040" stroke-width="2.5" stroke-linejoin="round">21.7</text>
<text transform="matrix(0.10333,0,0,0.10000,665.92,309.33)" font-size="58.08" font-family='"Liberation Sans", sans-serif' font-weight="bold" fill="#404040"  stroke="#404040" stroke-width="2.5" stroke-linejoin="round">a</text>
<polyline points="509.3,239.4 516,245.8" fill="none" stroke="#9a9a9a" stroke-width="0.7" stroke-linejoin="round" />
<polyline points="399.6,340.1 404.8,340.1 407.6,331.8" fill="none" stroke="#9a9a9a" stroke-width="0.7" stroke-linejoin="round" />
<polyline points="529.9,307.1 524.7,307.1 518.2,319.7" fill="none" stroke="#9a9a9a" stroke-width="0.7" stroke-linejoin="round" />
<polyline points="642.2,309.4 636.6,309.4 629.4,318" fill="none" stroke="#9a9a9a" stroke-width="0.7" stroke-linejoin="round" />
<line x1="364.2" y1="339.2" x2="366.8" y2="339.2" stroke="#d0d0d0" stroke-width="0.9" />
<text transform="matrix(0.11103,0,0,0.10000,407.85,371)" font-size="102" font-family='"Liberation Sans", sans-serif' font-weight="bold" fill="#595959" >0 ppm</text>
<text transform="matrix(0.10885,0,0,0.10000,495.45,371)" font-size="102" font-family='"Liberation Sans", sans-serif' font-weight="bold" fill="#595959" >300 ppm</text>
<text transform="matrix(0.10947,0,0,0.10000,605.69,371)" font-size="102" font-family='"Liberation Sans", sans-serif' font-weight="bold" fill="#595959" >600 ppm</text>
<line x1="355" y1="340.6" x2="358.6" y2="340.6" stroke="#d0d0d0" stroke-width="1" />
</svg>
</body></html>
